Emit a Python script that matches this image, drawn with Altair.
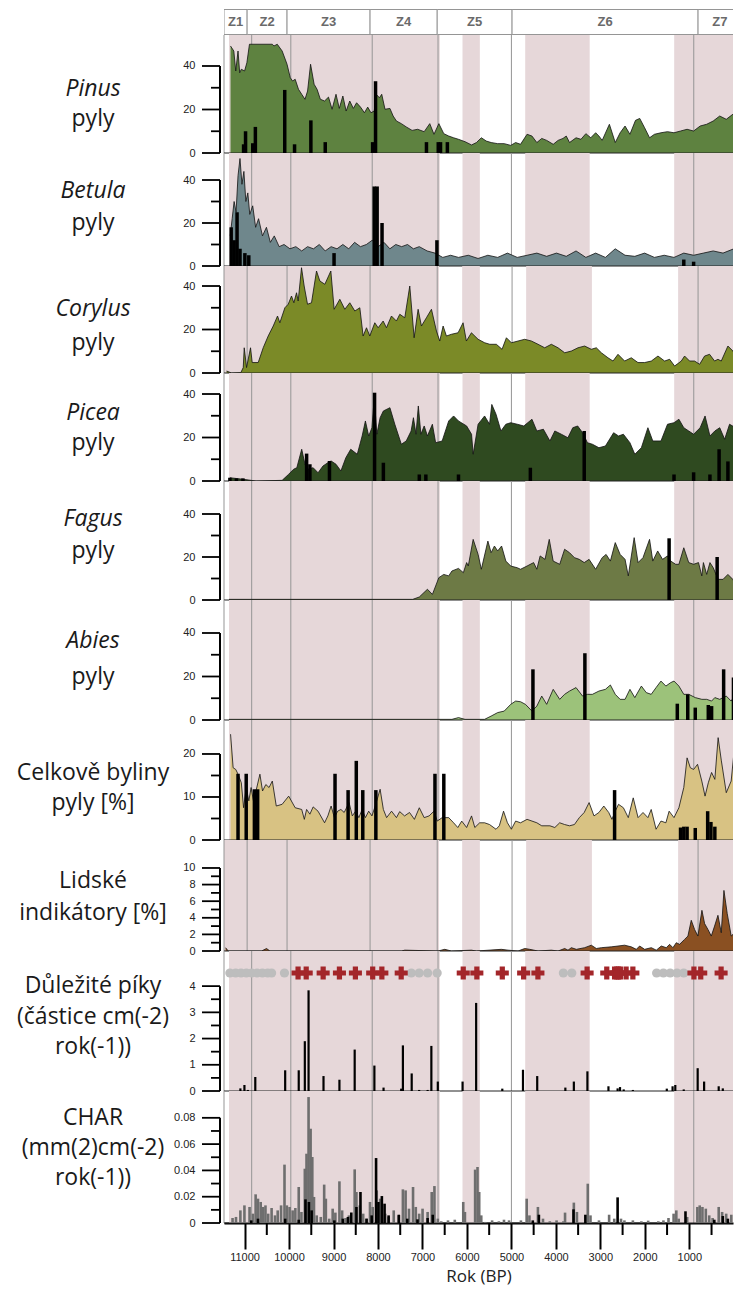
import altair as alt
import pandas as pd

# ---------------- layout constants ----------------
X_DOMAIN = [11350, 130]
W = 509
PINK = "#e6d7d9"
ZONE_LINE = "#959595"
LABEL_FONT = "Open Sans"
TICK_FONT = "Liberation Sans"

# ---------------- zones & shading ----------------
zone_bounds = [10840, 9960, 8130, 6650, 5000, 900]
zone_starts = [11350, 10840, 9960, 8130, 6650, 5000, 900]
zone_ends = [10840, 9960, 8130, 6650, 5000, 900, -100]
zone_names = ["Z1", "Z2", "Z3", "Z4", "Z5", "Z6", "Z7"]
zone_label_years = [11095, 10400, 9045, 7390, 5825, 2950, 420]
band_starts = [11350, 6100, 4690, 1340]
band_ends = [6610, 5710, 3240, -100]

# ---------------- series (year BP, value) ----------------
pinus = [(11316,49.2),(11242,46.9),(11198,37.7),(11147,46.9),(11110,36.9),(11073,38.5),(11000,37.7),(10948,41.5),
         (10890,50),(10743,50),(10376,50),(10339,49.2),(10265,50),(10155,46.9),(10045,40.8),(9972,34.6),(9920,33.1),
         (9862,33.9),(9788,29.3),(9715,27),(9641,24.7),(9583,28.5),(9516,40.8),(9436,31.6),(9370,29.3),(9296,24.7),
         (9201,23.9),(9113,25.7),(9032,20.1),(8944,27),(8870,20.5),(8790,26.2),(8716,19.3),(8635,23.9),(8554,20.5),
         (8481,23.1),(8393,21.1),(8305,18.5),(8231,21.1),(8158,18.5),(8084,19.3),(8040,27),(7967,25.4),(7916,27),
         (7842,20.1),(7732,20.5),(7659,17),(7585,14.7),(7475,13.5),(7365,12),(7233,10.4),(7108,10.9),(6961,9.8),
         (6836,13.5),(6741,8.6),(6631,13.5),(6521,8.9),(6410,7.8),(6300,7),(6190,6.3),(6043,5.2),(5896,3.7),(5786,4.8),
         (5676,7),(5566,5.5),(5455,4.8),(5309,4.3),(5162,4.3),(5015,3.5),(4905,4.8),(4795,4),(4648,8.6),(4538,7.8),
         (4428,4.8),(4318,6.7),(4207,5.8),(4060,4),(3950,5.8),(3840,6.7),(3767,7.8),(3693,4.8),(3547,7),(3436,6.3),
         (3326,8.9),(3216,7),(3106,9.3),(3032,7.8),(2959,5.8),(2797,13.2),(2665,4.8),(2555,9.3),(2445,12.4),(2335,8.6),
         (2210,15),(2115,15.9),(2005,11.6),(1894,7),(1784,8.6),(1637,9.3),(1490,9.8),(1344,9.3),(1197,10.1),(1050,10.9),
         (903,10.1),(756,12.4),(610,13.2),(463,14.7),(316,17),(169,15.5),(22,17.8),(-37,16.2)]
pinus_bars = [(11022,4),(10978,10),(10816,4.5),(10757,12),(10097,29),(9876,4),(9509,15),(9186,5),(8121,5),(8055,33),
              (6910,5),(6645,5),(6594,5),(6440,5)]

betula = [(11323,14),(11279,22),(11235,30),(11191,25),(11147,42),(11103,50),(11059,38),(11015,44),(10971,30),(10927,34),
          (10883,24),(10817,28),(10751,18),(10685,22),(10597,14),(10508,18),(10420,11),(10332,14),(10222,9),(10112,10),
          (9979,8),(9847,9),(9715,7),(9583,9),(9451,8),(9319,10),(9187,7),(9054,9),(8922,8),(8790,10),(8658,8),(8526,11),
          (8394,9),(8261,10),(8129,12),(7997,9),(7865,11),(7733,8),(7600,10),(7468,9),(7336,10),(7204,8),(7072,9),
          (6895,7),(6719,6),(6543,4),(6367,5),(6190,4),(5970,5),(5750,3.5),(5530,5),(5309,4),(5089,6),(4869,4),(4648,5),
          (4428,6),(4208,4.5),(3987,6),(3767,4.5),(3547,7),(3326,4),(3106,6),(2886,4),(2666,8),(2445,5),(2225,4.5),
          (2005,6),(1784,4),(1564,5),(1344,4),(1124,6),(903,5),(683,6),(463,7),(242,6),(0,8)]
betula_bars = [(11301,18),(11235,12),(11169,25),(11103,8),(10993,6),(10905,5),(8988,6),(8085,37),(8019,37),(7909,20),
               (6675,12),(1124,3),(903,2)]

corylus = [(11293,0.9),(11183,0),(10978,0.2),(10926,2.5),(10904,11.6),(10853,2.5),(10765,11.6),(10728,4.8),(10596,4.8),
           (10486,11.6),(10376,17),(10265,21.6),(10170,26.2),(10119,23.1),(10008,30),(9935,31.6),(9862,35.4),(9810,32.3),
           (9751,36.9),(9715,33.1),(9641,48.4),(9583,40),(9509,31.6),(9421,32.3),(9311,46.9),(9237,42.3),(9127,40.8),
           (8995,46.9),(8922,29.3),(8797,33.9),(8687,29.3),(8577,32.3),(8466,28.5),(8356,30),(8283,17),(8209,20.8),
           (8136,17),(8026,23.1),(7952,20.8),(7842,23.9),(7769,20.8),(7659,26.2),(7549,23.9),(7475,27),(7365,25.4),
           (7255,40),(7159,16.2),(7071,29.3),(6998,21.6),(6888,25.4),(6777,29.3),(6667,19.3),(6594,14.7),(6520,21.6),
           (6447,17),(6337,17.8),(6190,18.5),(6080,23.1),(6007,14.7),(5896,18.5),(5749,15.5),(5603,13.9),(5492,13.2),
           (5346,13.2),(5221,10.9),(5125,16.2),(5015,13.9),(4868,14.7),(4721,15.5),(4574,14.7),(4428,13.2),(4281,11.6),
           (4134,13.2),(3987,11.6),(3840,9.3),(3693,10.1),(3547,11.6),(3400,12.4),(3253,10.9),(3143,11.6),(3032,9.3),
           (2886,7),(2775,5.5),(2665,8.6),(2519,5.5),(2372,7),(2225,4.8),(2078,4.8),(1931,5.5),(1784,7.8),(1637,5.5),
           (1527,6.3),(1417,3.2),(1270,5.5),(1197,7.8),(1087,5.5),(977,5.5),(866,4),(756,7.8),(646,8.6),(536,5.5),
           (462,6.3),(389,5.5),(242,12.4),(132,10.1),(22,5.5),(-37,2.5)]

picea = [(11330,1.5),(11036,0.8),(10743,0),(10155,0.3),(10008,3.1),(9898,5.4),(9825,6.1),(9715,14.6),(9641,7.7),
         (9568,5.4),(9458,6.1),(9347,3.8),(9237,6.9),(9127,8.4),(9054,9.2),(8944,7.7),(8834,4.6),(8723,10.7),(8613,14.6),
         (8466,12.3),(8356,20.7),(8283,27.6),(8209,20.7),(8136,24.5),(8084,38.3),(8026,21.5),(7952,29.1),(7879,32.2),
         (7732,33.7),(7622,26.1),(7475,16.9),(7365,18.4),(7255,23),(7203,29.1),(7145,21.5),(7093,34.5),(7035,21.5),
         (6961,25.3),(6888,20.7),(6777,26.1),(6704,17.6),(6557,18.4),(6410,27.6),(6300,29.9),(6190,27.6),(6007,25.3),
         (5896,21.5),(5860,12.3),(5749,26.1),(5603,29.9),(5492,26.1),(5441,35.2),(5346,30.7),(5235,23),(5125,26.1),
         (5015,26.8),(4868,26.1),(4721,25.3),(4538,28.4),(4428,23),(4281,23.8),(4134,18.4),(4024,23),(3877,21.5),
         (3730,19.9),(3620,24.5),(3510,25.3),(3400,22.2),(3290,17.6),(3179,16.9),(3032,15.3),(2886,16.1),(2702,22.2),
         (2592,20.7),(2482,21.5),(2335,17.6),(2225,12.3),(2078,15.3),(1931,24.5),(1821,18.4),(1637,18.4),(1490,26.1),
         (1344,26.8),(1234,28.4),(1124,24.5),(1013,23),(903,21.5),(756,24.5),(646,29.9),(536,20.7),(426,23),(316,24.5),
         (205,19.2),(95,26.1),(-37,24.5)]
picea_bars = [(11330,1.5),(11183,1.2),(11036,1.2),(9605,12.6),(9531,7.7),(9091,9.2),(8077,40.6),(7879,8.4),(7071,3),
              (6924,3),(6190,3),(4574,6.1),(3363,23),(1344,3),(903,4),(536,3),(330,14.6),(132,9)]

fagus = [(11350,0.3),(7218,0.3),(7071,1.4),(6888,5),(6777,2.6),(6631,10.4),(6521,11.9),(6410,11.2),(6337,13.5),
         (6190,14.7),(6080,12.7),(6007,17.4),(5970,15.8),(5860,28.2),(5749,21.2),(5676,14.3),(5529,27.4),(5456,22),
         (5382,25.1),(5309,22.8),(5221,25.1),(5125,18.1),(5015,15.8),(4868,15),(4795,14.3),(4648,15.8),(4501,17.4),
         (4428,14.3),(4354,20.5),(4244,18.9),(4149,28.2),(4061,18.1),(3914,16.6),(3804,23.6),(3693,22),(3583,19.7),
         (3473,18.9),(3363,17.4),(3253,18.9),(3106,14.3),(2959,19.7),(2871,21.2),(2775,18.1),(2665,26.7),(2555,21.2),
         (2445,18.9),(2372,11.2),(2240,29),(2152,17.4),(2041,19.7),(1894,28.2),(1821,18.1),(1711,22.8),(1601,18.9),
         (1490,20.5),(1417,18.1),(1307,16.6),(1234,16.6),(1124,24.3),(1013,17.4),(903,16.6),(793,17.4),(719,11.2),
         (683,17.4),(609,11.9),(536,17.4),(462,15),(352,9.6),(242,9.6),(132,11.9),(22,9.6),(-37,7.3)]
fagus_bars = [(1454,28.7),(374,20)]

abies = [(11350,0.3),(6337,0.3),(6190,1.1),(6043,0.3),(5603,0.3),(5456,1.8),(5309,3.4),(5162,4.1),(5015,7.2),(4905,8.7),
         (4795,8.4),(4685,7.2),(4538,4.1),(4428,6.4),(4318,11),(4207,7.2),(4060,14.1),(3914,9.5),(3804,11.8),(3693,13.3),
         (3547,14.9),(3400,11),(3290,11.8),(3179,11.8),(3032,13.3),(2886,14.1),(2775,16.1),(2665,11.8),(2555,9.5),
         (2445,9.5),(2335,14.1),(2225,10.3),(2078,15.6),(1968,12.6),(1857,11.8),(1747,14.9),(1637,17.9),(1527,15.6),
         (1417,17.2),(1344,17.9),(1234,15.6),(1124,11.8),(1013,11.8),(866,10.3),(719,9.5),(609,9.5),(499,8.7),(426,10.3),
         (316,9.5),(169,11),(59,8.7),(-37,11.8)]
abies_bars = [(4516,23.3),(3348,30.7),(1270,7.5),(1035,11.8),(866,5.7),(573,6.9),(499,6.4),(228,23.3),(7,19.5)]

herbs = [(11315,24.6),(11257,16.8),(11198,16.4),(11147,15.3),(11073,13.3),(11022,7.5),(10963,12.2),(10904,9.1),
         (10853,12.2),(10801,9.1),(10743,11.4),(10655,15.3),(10596,11.4),(10522,12.9),(10449,12.2),(10376,13.7),
         (10287,7.9),(10155,8.3),(10008,10.2),(9862,7.5),(9715,7.1),(9656,4.8),(9605,7.1),(9531,6),(9458,7.7),(9348,6.7),
         (9201,4),(9127,5.6),(9054,7.9),(8980,5.2),(8907,6.7),(8834,7.1),(8760,6.4),(8650,8.7),(8577,5.6),(8503,6.7),
         (8430,5.2),(8356,7.1),(8283,5.2),(8209,6.7),(8136,5.6),(8062,7.9),(7952,11.8),(7879,7.1),(7806,5.2),(7695,6.7),
         (7585,5.2),(7512,6.6),(7402,5.6),(7291,6.4),(7181,4.8),(7071,7.5),(6961,5.2),(6851,5.6),(6741,6.7),(6667,4.4),
         (6557,5.2),(6410,5.2),(6300,4),(6205,2.9),(6117,4.4),(6007,2.9),(5896,5.6),(5823,2.9),(5713,4),(5603,4),
         (5492,3.6),(5346,2.5),(5272,3.3),(5177,6.7),(5089,4),(5001,2.5),(4905,4.4),(4795,4),(4648,4.8),(4538,4.4),
         (4428,4),(4318,3.3),(4134,3.3),(4024,2.9),(3914,4),(3804,3.6),(3693,3.3),(3583,3.6),(3473,5.2),(3363,6.4),
         (3253,8.7),(3143,5.6),(3032,6.4),(2922,7.9),(2812,6.4),(2739,4.8),(2665,6.7),(2592,8.3),(2482,7.5),(2372,5.2),
         (2261,9.8),(2152,5.2),(2041,6.4),(1931,5.2),(1857,7.1),(1747,2.5),(1637,4.4),(1527,4),(1454,6.7),(1344,5.2),
         (1234,7.5),(1124,12.2),(1050,19.1),(977,16.8),(903,16.4),(815,17.6),(719,13.7),(646,10.2),(573,13.3),
         (499,15.7),(426,14.1),(352,23.8),(279,18.4),(169,11),(59,13.7),(-15,21.5)]
herbs_bars = [(11147,15.4),(10963,15.4),(10779,11.8),(10706,11.8),(8966,15.4),(8672,11.6),(8488,18.4),(8342,11.6),
              (8048,11.6),(6719,15.4),(6520,15.4),(2680,11.6),(1197,2.9),(1124,3.1),(1050,3.1),(866,2.8),(587,6.7),
              (514,4.2),(426,3.1)]

indic = [(11315,0.4),(11257,0),(10522,0),(10412,0.3),(10339,0),(7438,0),(7365,0.1),(6631,0),(6484,0.2),(6337,0),
         (5896,0.1),(5786,0),(5236,0.2),(5089,0.1),(4868,0),(4721,0.3),(4611,0.2),(4428,0),(4134,0.1),(3987,0),
         (3840,0.3),(3767,0.1),(3693,0.4),(3583,0.2),(3400,0.4),(3253,0.7),(3143,0.3),(3032,0.4),(2812,0.5),(2665,0.6),
         (2519,0.7),(2372,0.5),(2261,0.2),(2188,0.6),(2078,0.2),(1931,0.4),(1821,0.1),(1711,0.6),(1601,0.4),(1527,0.8),
         (1454,0.4),(1380,1),(1307,0.8),(1197,1.4),(1124,1.8),(1050,3.7),(977,2.6),(903,1.8),(815,4.9),(756,3.3),
         (683,2.6),(609,1.8),(536,3),(462,4.3),(389,2.2),(330,7.3),(257,4.5),(169,1.8),(59,2.4),(7,8.5),(-37,8.9)]

peaks = [(11094,0.1),(11003,0.23),(10926,0.04),(10759,0.53),(10087,0.79),(9782,0.79),(9645,1.9),(9561,3.84),(9225,0.57),
         (8867,0.43),(8524,1.58),(8081,0.97),(7875,0.13),(7478,0.09),(7440,1.74),(7242,0.67),(7074,0.04),(6884,0.04),
         (6800,1.72),(6655,0.36),(6098,0.36),(5793,3.36),(5205,0.09),(4740,0.81),(4420,0.57),(3787,0.13),(3596,0.36),
         (3291,0.75),(2818,0.18),(2612,0.1),(2558,0.15),(2475,0.06),(2269,0.04),(1506,0.09),(1376,0.18),(1315,0.23),
         (1125,0.06),(812,0.87),(667,0.36),(339,0.18),(247,0.1)]
marker_circles = [11330,11200,11080,10960,10840,10720,10600,10480,10392,10103,7250,7074,6884,6670,3832,3642,
                  1735,1582,1430,1277,1125]
marker_crosses = [9797,9614,9233,8867,8508,8119,7913,7478,6083,5777,5205,4725,4404,3298,2856,2680,2630,2590,2550,
                  2421,2269,896,743,285]

char_grey = [(11270,0.0038),(11193,0.0046),(11094,0.0096),(11003,0.0134),(10888,0.0122),(10812,0.0071),(10751,0.0218),
             (10698,0.0185),(10637,0.016),(10583,0.0122),(10530,0.0134),(10469,0.0071),(10392,0.0114),(10316,0.0058),
             (10255,0.0096),(10179,0.0134),(10102,0.0444),(10049,0.0134),(9988,0.0122),(9919,0.0096),(9858,0.0114),
             (9782,0.0274),(9721,0.0084),(9645,0.0413),(9607,0.0527),(9561,0.0958),(9515,0.0717),(9477,0.0502),
             (9439,0.0198),(9378,0.0058),(9286,0.0046),(9210,0.0292),(9172,0.0185),(9096,0.0033),(9019,0.0109),
             (8958,0.0079),(8867,0.0317),(8806,0.0096),(8730,0.0038),(8653,0.0058),(8524,0.0408),(8485,0.0236),
             (8409,0.0134),(8333,0.0071),(8257,0.0033),(8180,0.016),(8119,0.0122),(8028,0.0248),(7951,0.0185),
             (7837,0.0071),(7761,0.0046),(7646,0.0096),(7532,0.0058),(7440,0.0256),(7379,0.0248),(7303,0.0109),
             (7212,0.0274),(7150,0.0122),(7074,0.0071),(6998,0.0109),(6884,0.0084),(6792,0.0236),(6731,0.0281),
             (6655,0.0033),(6578,0.0013),(6426,0.002),(6273,0.0025),(6083,0.016),(6045,0.0084),(5816,0.0406),
             (5762,0.0426),(5724,0.0236),(5678,0.0058),(5587,0.0008),(5434,0.002),(5282,0.0013),(5167,0.0025),
             (5053,0.002),(4786,0.002),(4656,0.0185),(4595,0.0058),(4404,0.0122),(4290,0.0033),(4137,0.0013),
             (3985,0.002),(3832,0.0013),(3794,0.0079),(3596,0.0155),(3527,0.0084),(3283,0.0299),(3222,0.0058),
             (3031,0.002),(2803,0.0063),(2688,0.0033),(2536,0.0033),(2459,0.002),(2269,0.002),(2078,0.0013),
             (1925,0.0018),(1697,0.0013),(1582,0.002),(1468,0.0038),(1353,0.0071),(1292,0.0096),(1239,0.0033),
             (1048,0.0046),(819,0.0122),(766,0.0134),(705,0.0122),(629,0.0109),(552,0.0058),(476,0.0038),(339,0.0122),
             (262,0.0084),(171,0.0071),(56,0.0063)]
char_black = [(10850,0.002),(10698,0.0033),(10087,0.0033),(9782,0.0025),(9630,0.018),(9553,0.016),(9492,0.0096),
              (8981,0.002),(8791,0.0033),(8676,0.0046),(8600,0.0079),(8485,0.0122),(8394,0.0236),(8257,0.0033),
              (8142,0.0058),(8043,0.0494),(7990,0.016),(7913,0.0205),(7852,0.0147),(7761,0.0058),(7532,0.0063),
              (7341,0.0033),(7112,0.0028),(6884,0.0038),(6769,0.0063),(4519,0.002),(4382,0.0063),(3604,0.0104),
              (3337,0.0063),(2612,0.0195),(1086,0.0089),(438,0.0025),(247,0.0053),(133,0.0033)]

x_major_ticks = [11000, 10000, 9000, 8000, 7000, 6000, 5000, 4000, 3000, 2000, 1000]
x_minor_ticks = [10500, 9500, 8500, 7500, 6500, 5500, 4500, 3500, 2500, 1500, 500]

# ---------------- helpers ----------------
xs = alt.Scale(domain=X_DOMAIN, nice=False, zero=False)
bands_df = pd.DataFrame({"start": band_starts, "end": band_ends})
zones_df = pd.DataFrame({"year": zone_bounds})

BOTTOM_AXIS = alt.Axis(values=x_major_ticks, format="d", tickSize=26, tickWidth=2, tickColor="black",
                       domainWidth=2, domainColor="black", grid=False, labelFont=TICK_FONT, labelFontSize=11,
                       labelColor="#222222", labelPadding=2, title="Rok (BP)", titleFont=LABEL_FONT,
                       titleFontSize=17, titleFontWeight="normal", titleColor="#222222", titlePadding=6)


def pairs(p):
    return pd.DataFrame(p, columns=["year", "v"])


def panel(H, ymax, major, minor, labels, area=None, color=None, bars=None, bar_color="black",
          bar_size=3.5, extra=(), bottom=False, bars2=None, bar2_color="black", bar2_size=2.5,
          label_expr=None):
    ys = alt.Scale(domain=[0, ymax], nice=False, zero=False)
    ax_kw = dict(values=major, ticks=False, tickSize=0, domain=False, grid=False, title=None,
                 labelPadding=29, labelFont=TICK_FONT, labelFontSize=11, labelColor="#222222",
                 labelOverlap=False)
    if label_expr:
        ax_kw["labelExpr"] = label_expr
    yax = alt.Axis(**ax_kw)
    xax = BOTTOM_AXIS if bottom else None

    def X(field):
        return alt.X(f"{field}:Q", scale=xs, axis=xax)

    def Y(field):
        return alt.Y(f"{field}:Q", scale=ys, axis=yax, stack=None)

    L = []
    L.append(alt.Chart(bands_df).mark_rect(color=PINK, clip=True).encode(
        x=X("start"), x2="end:Q", y=alt.value(0), y2=alt.value(H)))
    L.append(alt.Chart(zones_df).mark_rule(color=ZONE_LINE, strokeWidth=1).encode(x=X("year")))
    L.append(alt.Chart(pd.DataFrame({"a": [0]})).mark_rule(color=ZONE_LINE, strokeWidth=1).encode(
        x=alt.value(0), y=alt.value(0), y2=alt.value(H)))
    if area is not None:
        L.append(alt.Chart(pairs(area)).mark_area(
            color=color, opacity=1, clip=True, line={"color": "#111111", "strokeWidth": 0.8}).encode(
            x=X("year"), y=Y("v")))
    L.append(alt.Chart(pd.DataFrame({"v": [0]})).mark_rule(color="#222222", strokeWidth=1).encode(y=Y("v")))
    if bars is not None:
        L.append(alt.Chart(pairs(bars)).mark_bar(size=bar_size, color=bar_color, clip=True).encode(
            x=X("year"), y=Y("v")))
    if bars2 is not None:
        L.append(alt.Chart(pairs(bars2)).mark_bar(size=bar2_size, color=bar2_color, clip=True).encode(
            x=X("year"), y=Y("v")))
    for e in extra:
        L.append(e(X))
    # y axis: hand-drawn ticks/domain (labels come from the axis)
    L.append(alt.Chart(pd.DataFrame({"v": major})).mark_rule(color="black", strokeWidth=1.8).encode(
        y=Y("v"), x=alt.value(-22), x2=alt.value(-4)))
    L.append(alt.Chart(pd.DataFrame({"v": minor})).mark_rule(color="black", strokeWidth=1.8).encode(
        y=Y("v"), x=alt.value(-13), x2=alt.value(-4)))
    L.append(alt.Chart(pd.DataFrame({"v": [major[0]], "hi": [major[-1]]})).mark_rule(
        color="black", strokeWidth=2).encode(x=alt.value(-4), y=Y("v"), y2="hi:Q"))
    # left labels
    for text, italic, dy in labels:
        L.append(alt.Chart(pd.DataFrame({"t": [text]})).mark_text(
            font=LABEL_FONT, fontSize=23, fontStyle="italic" if italic else "normal", color="#1a1a1a",
            align="center", baseline="middle").encode(x=alt.value(-131), y=alt.value(dy), text="t:N"))
    if bottom:
        L.append(alt.Chart(pd.DataFrame({"year": x_minor_ticks})).mark_rule(color="black", strokeWidth=2).encode(
            x=X("year"), y=alt.value(H), y2=alt.value(H + 12)))
    return alt.layer(*L).properties(width=W, height=H)


pollen_major = [0, 20, 40]
pollen_minor = [10, 30]

# ---------------- header ----------------
zone_df = pd.DataFrame({"start": zone_starts, "end": zone_ends})
zone_lab_df = pd.DataFrame({"year": zone_label_years, "name": zone_names})
hx = alt.Scale(domain=X_DOMAIN, nice=False, zero=False)
header = alt.layer(
    alt.Chart(zone_df).mark_rect(fill="white", stroke=ZONE_LINE, strokeWidth=1, clip=True).encode(
        x=alt.X("start:Q", scale=hx, axis=None), x2="end:Q", y=alt.value(0.5), y2=alt.value(25.5)),
    alt.Chart(zone_lab_df).mark_text(font=TICK_FONT, fontSize=13, fontWeight="bold", color="#6a6a6a").encode(
        x=alt.X("year:Q", scale=hx, axis=None), y=alt.value(13), text="name:N"),
    alt.Chart(pd.DataFrame({"a": [0]})).mark_rule(color="white", strokeWidth=1).encode(
        x=alt.value(-215), y=alt.value(0), y2=alt.value(26)),
).properties(width=W, height=26)


# ---------------- marker row in peak panel ----------------
def circ(X):
    return alt.Chart(pd.DataFrame({"year": marker_circles})).mark_point(
        shape="circle", filled=True, size=85, color="#bdbdbd", opacity=1, clip=True).encode(
        x=X("year"), y=alt.value(22))


def cross(X):
    return alt.Chart(pd.DataFrame({"year": marker_crosses})).mark_point(
        shape="cross", filled=True, size=170, color="#a3262a", opacity=1, clip=True).encode(
        x=X("year"), y=alt.value(22))


panels = [
    panel(118, 54.25, pollen_major, pollen_minor, [("Pinus", True, 54), ("pyly", False, 84)],
          area=pinus, color="#5e8240", bars=pinus_bars),
    panel(113, 52.56, pollen_major, pollen_minor, [("Betula", True, 38), ("pyly", False, 70)],
          area=betula, color="#6f878c", bars=betula_bars),
    panel(107, 49.2, pollen_major, pollen_minor, [("Corylus", True, 43), ("pyly", False, 77)],
          area=corylus, color="#7b8a27"),
    panel(108, 49.66, pollen_major, pollen_minor, [("Picea", True, 40), ("pyly", False, 70)],
          area=picea, color="#2f4a20", bars=picea_bars),
    panel(119, 55.35, pollen_major, pollen_minor, [("Fagus", True, 38), ("pyly", False, 70)],
          area=fagus, color="#6d7a45", bars=fagus_bars),
    panel(120, 55.17, pollen_major, pollen_minor, [("Abies", True, 41), ("pyly", False, 77)],
          area=abies, color="#9cc27a", bars=abies_bars),
    panel(120, 27.9, [0, 10, 20], [5, 15], [("Celkově byliny", False, 53), ("pyly [%]", False, 83)],
          area=herbs, color="#d8c283", bars=herbs_bars),
    panel(111, 13.37, [0, 2, 4, 6, 8, 10], [1, 3, 5, 7, 9],
          [("Lidské", False, 41), ("indikátory [%]", False, 73)],
          area=indic, color="#8a5022"),
    panel(140, 5.34, [0, 1, 2, 3, 4], [0.5, 1.5, 2.5, 3.5],
          [("Důležité píky", False, 35), ("(částice cm(-2)", False, 66), ("rok(-1))", False, 96)],
          bars=peaks, bar_size=2.2, extra=(circ, cross)),
    panel(132, 0.1004, [0, 0.02, 0.04, 0.06, 0.08], [0.01, 0.03, 0.05, 0.07],
          [("CHAR", False, 27), ("(mm(2)cm(-2)", False, 57), ("rok(-1))", False, 87)],
          bars=char_grey, bar_color="#6e6e6e", bar_size=2.6, bars2=char_black, bar2_color="black",
          bar2_size=2.6, bottom=True,
          label_expr="datum.value == 0 ? '0' : format(datum.value, '.2f')"),
]

chart = alt.vconcat(header, *panels, spacing=0, bounds="flush").properties(
    padding={"left": 0, "top": 0, "right": 0, "bottom": 4}
).configure_view(stroke=None)

chart.save("out.html", embed_options={"renderer": "svg", "actions": False})
